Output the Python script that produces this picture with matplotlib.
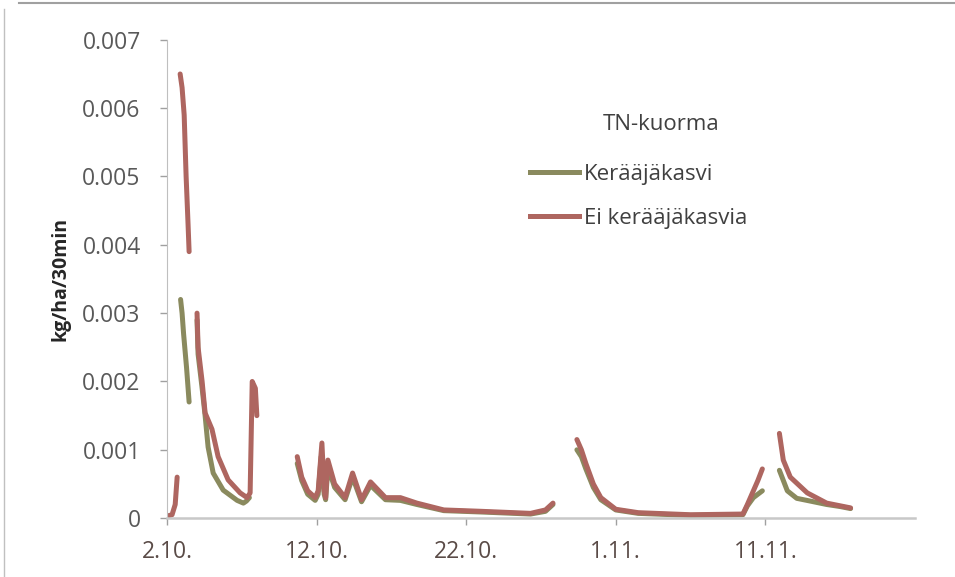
import numpy as np
import matplotlib
matplotlib.use("Agg")
import matplotlib.pyplot as plt
from matplotlib.lines import Line2D

# x = days since 2.10.; NaN marks gaps in the record
kera_days = [0.9, 1.0, 1.1, 1.3, 1.47, np.nan,
             2.0, 2.07, 2.34, 2.54, 2.74, 3.08, 3.75, 4.68, 5.1, 5.3, 5.5, np.nan,
             8.7, 9.0, 9.4, 9.9, 10.1, 10.3, 10.5, 10.6, 10.75, 11.2, 11.9, 12.4, 13.0, 13.6, 14.6, 15.6, 16.7, 18.5, 21.0, 24.3, 25.3, 25.8, np.nan,
             27.4, 27.7, 28.0, 28.5, 29.0, 30.0, 31.5, 35.0, 38.5, 38.8, 39.2, 39.5, 39.8, np.nan,
             40.94, 41.47, 42.1, 43.0, 44.1, 45.0, 45.7]
kera_vals = [0.0032, 0.0030, 0.0027, 0.0022, 0.0017, np.nan,
             0.0029, 0.0024, 0.0019, 0.0015, 0.00104, 0.00066, 0.00041, 0.00026, 0.00022, 0.00025, 0.0003, np.nan,
             0.0008, 0.00055, 0.00035, 0.00026, 0.00035, 0.0009, 0.00035, 0.00027, 0.00075, 0.00045, 0.00027, 0.0006, 0.00024, 0.00048, 0.00027, 0.00026, 0.0002, 0.00011, 0.00009, 0.00006, 0.0001, 0.0002, np.nan,
             0.001, 0.0009, 0.00072, 0.00045, 0.00027, 0.00012, 0.00007, 0.00004, 0.00005, 0.00018, 0.0003, 0.00035, 0.0004, np.nan,
             0.0007, 0.0004, 0.00029, 0.00025, 0.0002, 0.00017, 0.00014]

ei_days = [0.0, 0.33, 0.54, 0.67, np.nan,
           0.87, 1.0, 1.14, 1.27, 1.4, 1.47, np.nan,
           2.0, 2.07, 2.34, 2.54, 3.0, 3.41, 4.08, 4.88, 5.35, 5.55, 5.69, 5.9, 6.0, np.nan,
           8.7, 9.0, 9.4, 9.9, 10.1, 10.35, 10.5, 10.6, 10.75, 11.2, 11.9, 12.4, 13.0, 13.6, 14.6, 15.6, 16.7, 18.5, 21.0, 24.3, 25.3, 25.8, np.nan,
           27.4, 27.7, 28.0, 28.5, 29.0, 30.0, 31.5, 35.0, 38.5, 38.8, 39.2, 39.5, 39.8, np.nan,
           40.94, 41.2, 41.67, 42.8, 44.1, 45.7]
ei_vals = [0.00003, 0.00005, 0.0002, 0.0006, np.nan,
           0.0065, 0.0063, 0.0059, 0.0050, 0.0043, 0.0039, np.nan,
           0.0030, 0.0025, 0.0020, 0.00154, 0.0013, 0.0009, 0.00056, 0.00037, 0.0003, 0.00037, 0.0020, 0.0019, 0.0015, np.nan,
           0.0009, 0.0006, 0.0004, 0.0003, 0.0004, 0.0011, 0.0004, 0.0003, 0.00085, 0.0005, 0.0003, 0.00066, 0.00027, 0.00053, 0.0003, 0.0003, 0.00022, 0.00012, 0.0001, 0.00007, 0.00012, 0.00022, np.nan,
           0.00115, 0.001, 0.0008, 0.0005, 0.0003, 0.00013, 0.00008, 0.00005, 0.00006, 0.0002, 0.0004, 0.00055, 0.00072, np.nan,
           0.00124, 0.00085, 0.0006, 0.00037, 0.00022, 0.00015]

tick_days = [0, 10, 20, 30, 40]
tick_labels = ["2.10.", "12.10.", "22.10.", "1.11.", "11.11."]
y_ticks = [0, 0.001, 0.002, 0.003, 0.004, 0.005, 0.006, 0.007]
y_tick_labels = ["0", "0.001", "0.002", "0.003", "0.004", "0.005", "0.006", "0.007"]

series_names = ["Kerääjäkasvi", "Ei kerääjäkasvia"]
legend_title = "TN-kuorma"
y_label = "kg/ha/30min"

plt.rcParams['font.family'] = ['Open Sans', 'DejaVu Sans']

fig = plt.figure(figsize=(9.55, 5.77), dpi=100)
ax = fig.add_axes([0.175, 0.102, 0.783, 0.829])

c_green = '#8A8A5E'
c_red = '#AE6660'
lw = 3.6
ax.plot(kera_days, kera_vals, color=c_green, lw=lw, solid_capstyle='round', solid_joinstyle='round')
ax.plot(ei_days, ei_vals, color=c_red, lw=lw, solid_capstyle='round', solid_joinstyle='round')

ax.set_xlim(0, 50)
ax.set_ylim(0, 0.007)
ax.set_xticks(tick_days)
ax.set_xticklabels(tick_labels)
ax.set_yticks(y_ticks)
ax.set_yticklabels(y_tick_labels)

for s in ['top', 'right']:
    ax.spines[s].set_visible(False)
ax.spines['left'].set_color('#BFBFBF')
ax.spines['bottom'].set_color('#C8C8C8')
ax.spines['bottom'].set_linewidth(1.8)
ax.tick_params(axis='both', colors='#A0A0A0', length=5, width=1,
               labelsize=16.5, labelcolor='#595959')
ax.tick_params(axis='x', pad=11, labelcolor='#5A4B47')
ax.tick_params(axis='y', pad=14)
ax.set_ylabel(y_label, fontsize=14, fontweight='bold', color='#262626', labelpad=8.5)

fig.text(661 / 955, 1 - 124 / 577, legend_title, ha='center', va='center',
         fontsize=16, color='#404040')
handles = [Line2D([], [], color=c_green, lw=lw), Line2D([], [], color=c_red, lw=lw)]
leg = ax.legend(handles, series_names, frameon=False,
                loc='upper left', bbox_to_anchor=(0.539, 1 - 148 / 577), bbox_transform=fig.transFigure,
                fontsize=16, handlelength=2.2, handletextpad=0.2, borderpad=0.2,
                labelspacing=1.05)
for t in leg.get_texts():
    t.set_color('#404040')

# outer chart border lines
fig.add_artist(Line2D([0.02, 1.0], [0.995, 0.995], transform=fig.transFigure, color='#A0A0A0', lw=1.5))
fig.add_artist(Line2D([0.004, 0.004], [0.0, 0.985], transform=fig.transFigure, color='#C0C0C0', lw=1))

fig.savefig('out.png', dpi=100)
